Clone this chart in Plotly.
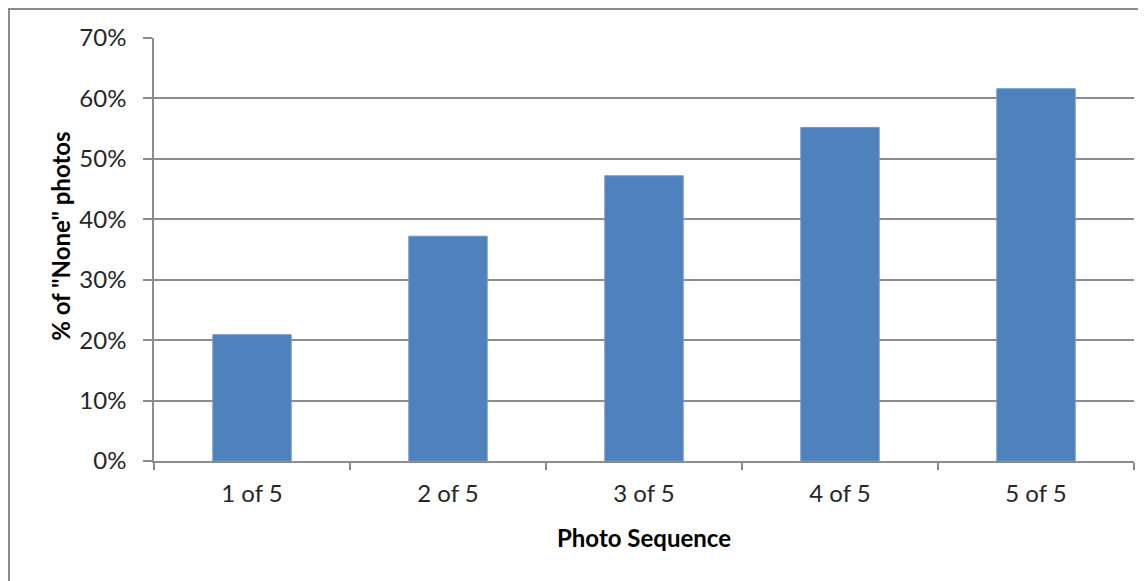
import plotly.graph_objects as go

categories = ["1 of 5", "2 of 5", "3 of 5", "4 of 5", "5 of 5"]
values = [0.209, 0.372, 0.472, 0.552, 0.616]
y_ticks = [0, 0.1, 0.2, 0.3, 0.4, 0.5, 0.6, 0.7]
y_ticklabels = ["0%", "10%", "20%", "30%", "40%", "50%", "60%", "70%"]

FONT = "Lato, 'Open Sans', sans-serif"
GRID = "#8c8c8c"

fig = go.Figure(go.Bar(
    x=categories, y=values,
    marker=dict(color="#4F81BD", line=dict(color="#6E97CC", width=1)),
    width=0.4,
))

# page has an 8px body margin, so the figure is sized/offset to compensate
fig.update_layout(
    width=1138, height=573,
    margin=dict(l=146, r=12, t=30, b=120),
    paper_bgcolor="white", plot_bgcolor="white",
    showlegend=False,
    font=dict(family=FONT, color="#262626"),
)

fig.update_xaxes(
    type="category",
    showline=True, linecolor=GRID, linewidth=1.5,
    ticks="outside", tickson="boundaries", ticklen=7, tickcolor=GRID, tickwidth=1.5,
    tickfont=dict(size=24, family=FONT, color="#262626"),
    ticklabelstandoff=10,
    showgrid=False,
)
fig.update_yaxes(
    range=[0, 0.7],
    tickvals=y_ticks, ticktext=y_ticklabels,
    showline=True, linecolor=GRID, linewidth=1.5,
    ticks="outside", ticklen=9, tickcolor=GRID, tickwidth=1.5,
    tickfont=dict(size=24, family=FONT, color="#262626"),
    ticklabelstandoff=12,
    showgrid=True, gridcolor=GRID, gridwidth=1.5,
    zeroline=False,
)

fig.add_annotation(
    text="<b>Photo Sequence</b>", xref="paper", yref="paper",
    x=0.5, y=-0.18, xanchor="center", yanchor="middle", showarrow=False,
    font=dict(size=24, family=FONT, color="#000000"),
)
fig.add_annotation(
    text="<b>% of \"None\" photos</b>", xref="paper", yref="paper",
    x=-0.095, y=0.532, xanchor="center", yanchor="middle", showarrow=False,
    textangle=-90,
    font=dict(size=24, family=FONT, color="#000000"),
)

fig.add_shape(
    type="rect", xref="paper", yref="paper",
    x0=-0.148, x1=1.05, y0=-0.4, y1=1.0686,
    line=dict(color="#8a8a8a", width=2), fillcolor="rgba(0,0,0,0)",
    layer="below",
)

fig.write_html("out.html")
